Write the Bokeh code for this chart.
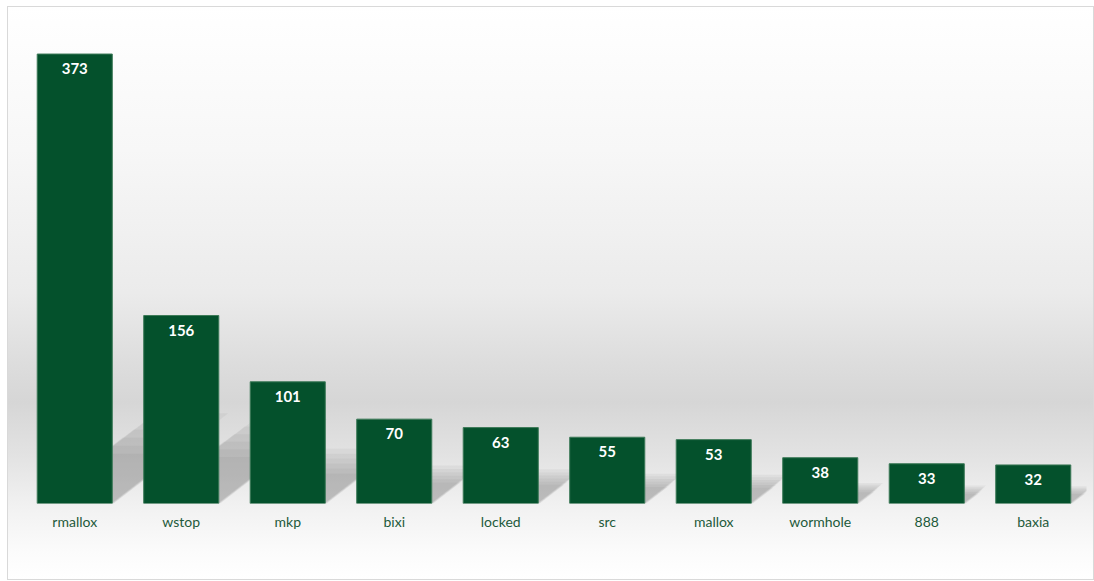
from bokeh.plotting import figure
from bokeh.models import Range1d, FixedTicker, ColumnDataSource
from bokeh.embed import file_html
from bokeh.resources import INLINE
from bokeh.core.properties import value

categories = ["rmallox", "wstop", "mkp", "bixi", "locked", "src", "mallox", "wormhole", "888", "baxia"]
counts = [373, 156, 101, 70, 63, 55, 53, 38, 33, 32]

BAR_COLOR = "#04512C"
LABEL_COLOR = "#1E5A3B"
W, H = 1087, 574
ML, MR, MT, MB = 14, 8, 15, 77
YMAX = 400
BAR_W = 0.705

p = figure(width=W, height=H, output_backend="svg", toolbar_location=None,
           x_range=Range1d(-0.5, len(categories) - 0.5), y_range=Range1d(0, YMAX),
           min_border=0)
p.min_border_left = ML
p.min_border_right = MR
p.min_border_top = MT
p.min_border_bottom = MB
p.background_fill_color = None
p.border_fill_color = None
p.outline_line_color = None
p.styles = {
    "margin-left": "7px",
    "margin-top": "6px",
    "background": "linear-gradient(to bottom, #ffffff 0%, #f7f7f7 25%, #ebebeb 50%, #dddddd 62%, #d6d6d6 69%, #e2e2e2 78%, #f1f1f1 87%, #fbfbfb 95%, #ffffff 100%)",
    "outline": "1px solid #d9d9d9",
    "outline-offset": "-1px",
}
p.grid.visible = False
p.yaxis.visible = False

xs = list(range(len(categories)))

# perspective shadows (decorative), computed through data scales
px_x = (W - ML - MR) / len(categories)
px_y = (H - MT - MB) / YMAX
SHEAR = 1.3      # px to the right per px of height
FRAC = 0.45      # shadow height relative to the bar
CAP = 75         # maximum shadow height (data units)
shadow_xs, shadow_ys = [], []
for i, v in zip(xs, counts):
    base_h = min(FRAC * v, CAP)
    for k in range(6):
        hs = base_h * (0.55 + 0.09 * k)
        dx = SHEAR * hs * px_y / px_x
        inset = 0.06 * (k - 2.5) / px_x * 10
        x0 = i - BAR_W / 2 + inset
        x1 = i + BAR_W / 2 - inset
        shadow_xs.append([x0, x1, x1 + dx, x0 + dx])
        shadow_ys.append([0, 0, hs, hs])
p.patches(shadow_xs, shadow_ys, fill_color="#5a5a5a", fill_alpha=0.065, line_color=None)

src = ColumnDataSource(dict(x=xs, top=counts, label=[str(c) for c in counts]))
p.vbar(x="x", top="top", width=BAR_W, source=src, fill_color=BAR_COLOR,
       line_color="#3d7a58", line_width=1)
p.text(x="x", y="top", text="label", source=src, text_align="center", text_baseline="top",
       y_offset=9, text_color="white", text_font=value("Lato"), text_font_style="bold",
       text_font_size="15px")

ax = p.xaxis[0]
ax.ticker = FixedTicker(ticks=xs)
ax.major_label_overrides = {i: c for i, c in zip(xs, categories)}
ax.axis_line_color = None
ax.major_tick_line_color = None
ax.minor_tick_line_color = None
ax.major_label_standoff = 3
ax.major_label_text_font = "Lato"
ax.major_label_text_font_size = "14px"
ax.major_label_text_color = LABEL_COLOR

open("out.html", "w").write(file_html(p, INLINE))
